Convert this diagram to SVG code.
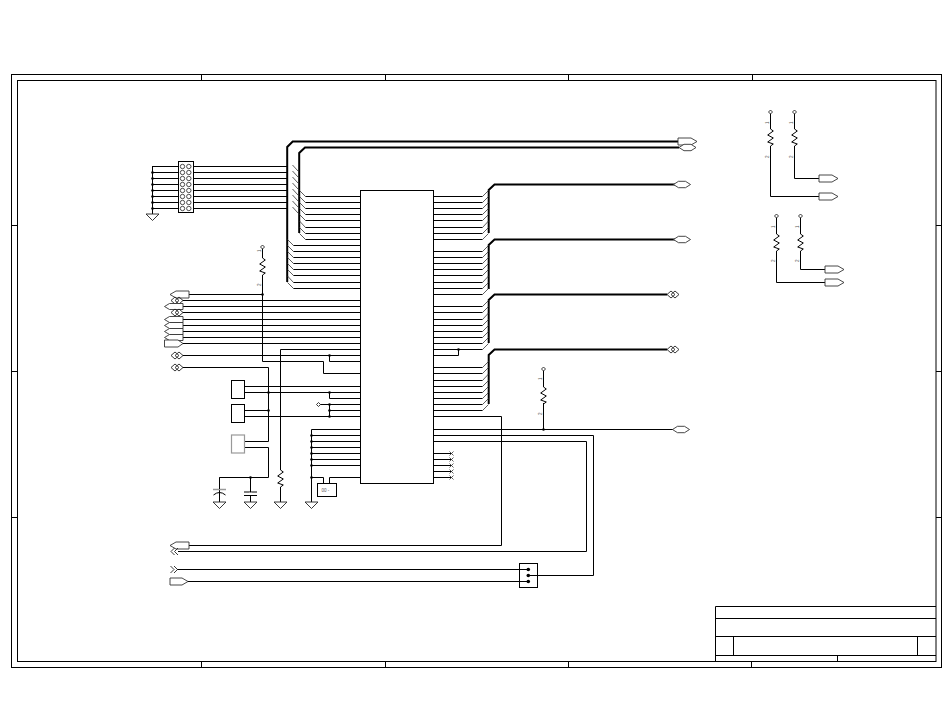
<svg xmlns="http://www.w3.org/2000/svg" width="950" height="725" viewBox="0 0 950 725">
<style>
.w{fill:none;stroke:#000;stroke-width:1}
.b{fill:none;stroke:#000;stroke-width:2}
.e{fill:none;stroke:#333;stroke-width:.8}
.n{fill:none;stroke:#000;stroke-width:1}
.box{fill:#fff;stroke:#000;stroke-width:1}
.g{fill:#fff;stroke:#333;stroke-width:.9}
.gb{fill:#fff;stroke:#999;stroke-width:1.2}
.d{fill:#000;stroke:none}
.t{font-family:"Liberation Sans",Arial,sans-serif;font-size:4.500px;fill:#555}
</style>
<defs>
<g id="pr"><path class="g" d="M0,-3.500H13L19,0L13,3.500H0Z"/></g>
<g id="pl"><path class="g" d="M0,0L6,-3.500H19V3.500H6Z"/></g>
<g id="pw"><path class="g" d="M0,0L5,-3H18.500V3H5Z"/></g>
<g id="hx"><path class="g" d="M0,0L5,-3.200H12L17,0L12,3.200H5Z"/></g>
<g id="dd"><path style="fill:none;stroke:#222;stroke-width:.9" d="M0,0L4,-3.500L8,0L4,3.500ZM4,0L8,-3.500L12,0L8,3.500Z"/></g>
<g id="ch"><path style="fill:none;stroke:#222;stroke-width:.9" d="M3.500,-3.500L0,0L3.500,3.500M7,-3.500L3.500,0L7,3.500"/></g>
<g id="gnd"><path class="g" style="stroke:#222" d="M-6.500,0H6.500L0,6.500Z"/></g>
<g id="zz"><path class="n" d="M0,0L2.800,2L-2.800,6L2.800,9L-2.800,13L2.800,15L0,17"/></g>
<g id="pb"><path class="g" style="stroke:#222" d="M0,-2L2,0L0,2L-2,0Z"/></g>
<g id="xm"><path class="e" d="M-2,-2L2,2M-2,2L2,-2"/></g>
<circle id="j" class="d" r="1.300"/>
</defs>

<g id="frame">
<rect class="n" x="11.500" y="74.500" width="930" height="593"/>
<rect class="n" x="17.500" y="80.500" width="918.500" height="581"/>
<path class="n" d="M201.500,74.500V80.500M385.500,74.500V80.500M568.500,74.500V80.500M752.500,74.500V80.500M201.500,661.500V667.500M385.500,661.500V667.500M568.500,661.500V667.500M751.500,661.500V667.500M11.500,225.500H17.500M11.500,371.500H17.500M11.500,517.500H17.500M936,225.500H941.500M936,371.500H941.500M936,517.500H941.500"/>
</g>

<g id="title-block">
<path class="n" d="M715.500,661V606.500H936M715.500,618.500H936M715.500,636.500H936M715.500,655.500H936M733.500,636.500V655.500M917.500,636.500V655.500M837.500,655.500V661"/>
</g>

<g id="connectors">
<path class="b" d="M287.200,282V147L292.700,141.500H679"/>
<path class="b" d="M299.200,233V153L305,147.500H679"/>
<path class="b" d="M488.700,233V190L494.500,184.500H675"/>
<path class="b" d="M488.700,289V245L494.500,239.500H675"/>
<path class="b" d="M488.700,343V300L494.500,294.500H667"/>
<path class="b" d="M488.700,404V355L494.500,349.500H667"/>
<path class="w" d="M152.500,166.500H178.500M152.500,172.500H178.500M152.500,178.500H178.500M152.500,184.500H178.500M152.500,190.500H178.500M152.500,196.500H178.500M152.500,202.500H178.500M152.500,208.500H178.500M152.500,166V214"/>
<path class="w" d="M193.500,166.500H287M193.500,172.500H287M193.500,178.500H287M193.500,184.500H287M193.500,190.500H287M193.500,196.500H287M193.500,202.500H287M193.500,208.500H287"/>
<path class="e" d="M292.500,165L298,171M292.500,171L298,177M292.500,177L298,183M292.500,183L298,189M292.500,189L298,195M292.500,195L298,201M292.500,201L298,207M292.500,207L298,213"/>
<path class="e" d="M299.500,190.500L305.500,196.500M299.500,196.500L305.500,202.500M299.500,202.500L305.500,208.500M299.500,208.500L305.500,214.500M299.500,214.500L305.500,220.500M299.500,221L305.500,227.500M299.500,227.500L305.500,233.500M299.500,233.500L305.500,239.500"/>
<path class="w" d="M305.500,196.500H360.500M305.500,202.500H360.500M305.500,208.500H360.500M305.500,214.500H360.500M305.500,220.500H360.500M305.500,227.500H360.500M305.500,233.500H360.500M305.500,239.500H360.500"/>
<path class="e" d="M287.500,239.500L293.500,245.500M287.500,245.500L293.500,251.500M287.500,251.500L293.500,257.500M287.500,257.500L293.500,263.500M287.500,263.500L293.500,269.500M287.500,269.500L293.500,275.500M287.500,276L293.500,282.500M287.500,282.500L293.500,288.500"/>
<path class="w" d="M293.500,245.500H360.500M293.500,251.500H360.500M293.500,257.500H360.500M293.500,263.500H360.500M293.500,269.500H360.500M293.500,275.500H360.500M293.500,282.500H360.500M293.500,288.500H360.500"/>
<path class="w" d="M189,294.500H262.500M183,300.500H360.500M183,306.500H360.500M183,312.500H360.500M183,319.500H360.500M183,325.500H360.500M183,331.500H360.500M183,337.500H360.500M183,343.500H360.500"/>
<path class="w" d="M280.500,470V349.500H360.500M183,355.500H360.500M329.500,355.500V361.500H360.500"/>
<path class="w" d="M262.500,275V361.500H323.500V373.500H360.500"/>
<path class="w" d="M183,367.500H268.500V441.500H244.500M244.500,447.500H268.500V477.500H219.500V502"/>
<path class="w" d="M250.500,477.500V502"/>
<path class="w" d="M244.500,386.500H360.500M244.500,392.500H360.500M329.500,392.500V398.500H360.500"/>
<path class="w" d="M244.500,410.500H268.500M244.500,416.500H360.500M329.500,404.500H360.500M329.500,404.500V416.500M329.500,410.500H360.500"/>
<path class="w" d="M320,404.500H329.500"/>
<path class="w" d="M311.500,429.500V502M311.500,429.500H360.500M311.500,435.500H360.500M311.500,441.500H360.500M311.500,447.500H360.500M311.500,453.500H360.500M311.500,459.500H360.500M311.500,465.500H360.500M311.500,477.500H323.500V483.500M329.500,483.500V477.500H360.500"/>
<path class="w" d="M280.500,487V502"/>
<path class="w" d="M433.500,196.500H482.500M433.500,202.500H482.500M433.500,208.500H482.500M433.500,214.500H482.500M433.500,220.500H482.500M433.500,227.500H482.500M433.500,233.500H482.500M433.500,239.500H482.500"/>
<path class="e" d="M482.500,196.500L488.500,190.500M482.500,202.500L488.500,196.500M482.500,208.500L488.500,202.500M482.500,214.500L488.500,208.500M482.500,220.500L488.500,214.500M482.500,227.500L488.500,221M482.500,233.500L488.500,227.500M482.500,239.500L488.500,233.500"/>
<path class="w" d="M433.500,251.500H482.500M433.500,257.500H482.500M433.500,263.500H482.500M433.500,269.500H482.500M433.500,275.500H482.500M433.500,282.500H482.500M433.500,288.500H482.500M433.500,294.500H482.500"/>
<path class="e" d="M482.500,251.500L488.500,245.500M482.500,257.500L488.500,251.500M482.500,263.500L488.500,257.500M482.500,269.500L488.500,263.500M482.500,275.500L488.500,269.500M482.500,282.500L488.500,276M482.500,288.500L488.500,282.500M482.500,294.500L488.500,288.500"/>
<path class="w" d="M433.500,306.500H482.500M433.500,312.500H482.500M433.500,319.500H482.500M433.500,325.500H482.500M433.500,331.500H482.500M433.500,337.500H482.500M433.500,343.500H482.500M433.500,349.500H482.500"/>
<path class="e" d="M482.500,306.500L488.500,300.500M482.500,312.500L488.500,306.500M482.500,319.500L488.500,313M482.500,325.500L488.500,319.500M482.500,331.500L488.500,325.500M482.500,337.500L488.500,331.500M482.500,343.500L488.500,337.500M482.500,349.500L488.500,343.500"/>
<path class="w" d="M458.500,349.500V355.500H433.500"/>
<path class="w" d="M433.500,367.500H482.500M433.500,373.500H482.500M433.500,380.500H482.500M433.500,386.500H482.500M433.500,392.500H482.500M433.500,398.500H482.500M433.500,404.500H482.500M433.500,410.500H482.500"/>
<path class="e" d="M482.500,367.500L488.500,361.500M482.500,373.500L488.500,367.500M482.500,380.500L488.500,374M482.500,386.500L488.500,380.500M482.500,392.500L488.500,386.500M482.500,398.500L488.500,392.500M482.500,404.500L488.500,398.500M482.500,410.500L488.500,404.500"/>
<path class="w" d="M433.500,416.500H501.500V545.500H189"/>
<path class="w" d="M433.500,429.500H673"/>
<path class="w" d="M433.500,435.500H593.500V575.500H528.500"/>
<path class="w" d="M433.500,441.500H586.500V551.500H178"/>
<path class="w" d="M433.500,453.500H451M433.500,459.500H451M433.500,465.500H451M433.500,471.500H451M433.500,477.500H451"/>
<path class="w" d="M177,569.500H528.500M188,581.500H528.500"/>
<path class="w" d="M262.500,247V258"/>
<path class="w" d="M543.500,369V387M543.500,403V429.500"/>
<path class="w" d="M770.500,112V129M770.500,146V196.500H819"/>
<path class="w" d="M794.500,112V129M794.500,146V178.500H819"/>
<path class="w" d="M776.500,216V234M776.500,251V282.500H825"/>
<path class="w" d="M800.500,216V234M800.500,251V269.500H825"/>
<g id="junctions">
<use href="#j" x="152.500" y="172.500"/><use href="#j" x="152.500" y="178.500"/><use href="#j" x="152.500" y="184.500"/><use href="#j" x="152.500" y="190.500"/><use href="#j" x="152.500" y="196.500"/><use href="#j" x="152.500" y="202.500"/><use href="#j" x="152.500" y="208.500"/>
<use href="#j" x="262.500" y="294.500"/><use href="#j" x="329.500" y="355.500"/><use href="#j" x="268.500" y="392.500"/><use href="#j" x="329.500" y="392.500"/><use href="#j" x="329.500" y="404.500"/><use href="#j" x="329.500" y="410.500"/><use href="#j" x="329.500" y="416.500"/><use href="#j" x="268.500" y="410.500"/><use href="#j" x="250.500" y="477.500"/>
<use href="#j" x="311.500" y="435.500"/><use href="#j" x="311.500" y="441.500"/><use href="#j" x="311.500" y="447.500"/><use href="#j" x="311.500" y="453.500"/><use href="#j" x="311.500" y="459.500"/><use href="#j" x="311.500" y="465.500"/><use href="#j" x="311.500" y="477.500"/>
<use href="#j" x="458.500" y="349.500"/><use href="#j" x="543.500" y="429.500"/>
</g>
</g>

<g id="U1"><rect class="box" x="360.500" y="190.500" width="73" height="293"/></g>

<g id="J1">
<rect class="box" x="178.500" y="161.500" width="15" height="51"/>
<g style="fill:none;stroke:#222;stroke-width:.8">
<circle cx="182.500" cy="166.500" r="2.200"/><circle cx="188.800" cy="166.500" r="2.200"/><circle cx="182.500" cy="172.500" r="2.200"/><circle cx="188.800" cy="172.500" r="2.200"/><circle cx="182.500" cy="178.500" r="2.200"/><circle cx="188.800" cy="178.500" r="2.200"/><circle cx="182.500" cy="184.500" r="2.200"/><circle cx="188.800" cy="184.500" r="2.200"/><circle cx="182.500" cy="190.500" r="2.200"/><circle cx="188.800" cy="190.500" r="2.200"/><circle cx="182.500" cy="196.500" r="2.200"/><circle cx="188.800" cy="196.500" r="2.200"/><circle cx="182.500" cy="202.500" r="2.200"/><circle cx="188.800" cy="202.500" r="2.200"/><circle cx="182.500" cy="208.500" r="2.200"/><circle cx="188.800" cy="208.500" r="2.200"/>
</g>
</g>
<g id="GND1"><use href="#gnd" x="152.500" y="214"/></g>

<g id="R1"><use href="#pb" x="262.500" y="247"/><use href="#zz" x="262.500" y="258"/><text class="t" transform="translate(261,252) rotate(-90)">1</text><text class="t" transform="translate(261,286) rotate(-90)">2</text></g>
<g id="R2"><use href="#zz" x="280.500" y="470"/></g>
<g id="R3"><use href="#pb" x="543.500" y="369"/><use href="#zz" x="543.500" y="387"/><text class="t" transform="translate(542,380) rotate(-90)">1</text><text class="t" transform="translate(542,415) rotate(-90)">2</text></g>
<g id="R4"><use href="#pb" x="770.500" y="112"/><use href="#zz" x="770.500" y="129"/><text class="t" transform="translate(769,124) rotate(-90)">1</text><text class="t" transform="translate(769,158) rotate(-90)">2</text></g>
<g id="R5"><use href="#pb" x="794.500" y="112"/><use href="#zz" x="794.500" y="129"/><text class="t" transform="translate(793,124) rotate(-90)">1</text><text class="t" transform="translate(793,158) rotate(-90)">2</text></g>
<g id="R6"><use href="#pb" x="776.500" y="216"/><use href="#zz" x="776.500" y="234"/><text class="t" transform="translate(775,228) rotate(-90)">1</text><text class="t" transform="translate(775,262) rotate(-90)">2</text></g>
<g id="R7"><use href="#pb" x="800.500" y="216"/><use href="#zz" x="800.500" y="234"/><text class="t" transform="translate(799,228) rotate(-90)">1</text><text class="t" transform="translate(799,262) rotate(-90)">2</text></g>

<g id="Y1"><rect class="box" x="231.500" y="380.500" width="13" height="18"/></g>
<g id="Y2"><rect class="box" x="231.500" y="404.500" width="13" height="18"/></g>
<g id="Y3"><rect class="gb" x="231.500" y="435" width="13" height="18"/></g>

<g id="C1"><path fill="none" stroke="#999" stroke-width="1.500" d="M213,489.500H226"/><path class="n" d="M219.500,477.500V489M213.500,495Q219.500,490 225.500,495"/><use href="#gnd" x="219.500" y="502"/></g>
<g id="C2"><path class="n" d="M244,492H257M244,495.500H257"/><rect x="249.500" y="492.500" width="2" height="2.500" fill="#fff"/><use href="#gnd" x="250.500" y="502"/></g>
<g id="GND3"><use href="#gnd" x="280.500" y="502"/></g>
<g id="GND4"><use href="#gnd" x="311.500" y="502"/></g>

<g id="TP1"><use href="#pb" x="318.500" y="404.500"/></g>
<g id="D1"><rect class="box" x="317.500" y="483.500" width="19" height="13"/><text class="t" x="321.500" y="491.500">00 -</text></g>

<g id="J2"><rect x="519.500" y="563.500" width="18" height="24" fill="none" stroke="#000"/><circle class="d" cx="528.300" cy="569.500" r="1.800"/><circle class="d" cx="528.300" cy="575.500" r="1.800"/><circle class="d" cx="528.300" cy="581.500" r="1.800"/></g>

<g id="labels">
<use href="#pr" x="678" y="141.500"/><use href="#hx" x="679" y="147.500"/>
<use href="#hx" x="673.500" y="184.500"/><use href="#hx" x="673.500" y="239.500"/>
<use href="#dd" x="667" y="294.500"/><use href="#dd" x="667" y="349.500"/>
<use href="#hx" x="672.500" y="429.500"/>
<use href="#pr" x="819" y="178.500"/><use href="#pr" x="819" y="196.500"/>
<use href="#pr" x="825" y="269.500"/><use href="#pr" x="825" y="282.500"/>
<use href="#pl" x="170" y="294.500"/>
<use href="#dd" x="171" y="300.500"/>
<use href="#pw" x="164.500" y="306.500"/>
<use href="#dd" x="171" y="312.500"/>
<use href="#pw" x="164.500" y="319.500"/><use href="#pw" x="164.500" y="325.500"/><use href="#pw" x="164.500" y="331.500"/><use href="#pw" x="164.500" y="337.500"/>
<path class="g" d="M164.500,340H178L183,343.500L178,347H164.500Z"/>
<use href="#dd" x="171" y="355.500"/><use href="#dd" x="171" y="367.500"/>
<use href="#pl" x="170" y="545.500"/>
<use href="#ch" x="171" y="551.500"/>
<path style="fill:none;stroke:#222;stroke-width:.9" d="M170.500,566L174,569.500L170.500,573M174,566L177.500,569.500L174,573"/>
<path class="g" d="M170,578H182L188,581.500L182,585H170Z"/>
</g>

<g id="noconnects">
<use href="#xm" x="451.500" y="453.500"/><use href="#xm" x="451.500" y="459.500"/><use href="#xm" x="451.500" y="465.500"/><use href="#xm" x="451.500" y="471.500"/><use href="#xm" x="451.500" y="477.500"/>
</g>
</svg>
